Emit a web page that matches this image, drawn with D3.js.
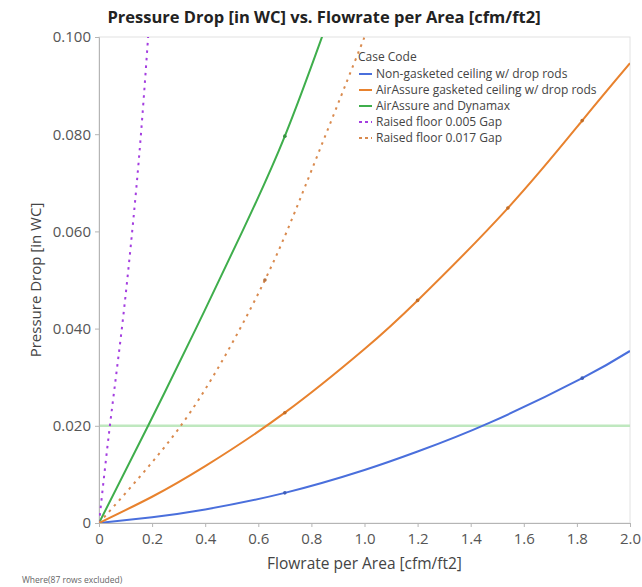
<!DOCTYPE html>
<html>
<head>
<meta charset="utf-8">
<script src="https://cdn.jsdelivr.net/npm/d3@7"></script>
<style>
  body { margin: 0; background: #fff; }
  text { font-family: "Open Sans", "Noto Sans", sans-serif; }
</style>
</head>
<body>
<div id="chart"></div>
<script>
// values
var seriesNames = ["Non-gasketed ceiling w/ drop rods", "AirAssure gasketed ceiling w/ drop rods",
                   "AirAssure and Dynamax", "Raised floor 0.005 Gap", "Raised floor 0.017 Gap"];
var seriesColors = ["#4a6fdc", "#e8822e", "#3fae4c", "#a43ee0", "#d98a4e"];
var seriesDashed = [false, false, false, true, true];

var nonGasketX = [0, 0.2, 0.4, 0.7, 1.0, 1.2, 1.47, 1.82, 2.0];
var nonGasketY = [0, 0.0012, 0.0028, 0.0062, 0.0109, 0.0147, 0.0206, 0.0298, 0.0354];
var gasketX = [0, 0.2, 0.4, 0.7, 1.0, 1.2, 1.54, 1.82, 2.0];
var gasketY = [0, 0.0054, 0.0117, 0.0227, 0.0358, 0.0458, 0.0648, 0.0828, 0.0946];
var dynamaxX = [0, 0.185, 0.365, 0.54, 0.7, 0.84, 0.88];
var dynamaxY = [0, 0.020, 0.040, 0.060, 0.0796, 0.100, 0.106];
var gap005X = [0, 0.041, 0.086, 0.125, 0.158, 0.185, 0.19];
var gap005Y = [0, 0.020, 0.040, 0.060, 0.080, 0.100, 0.104];
var gap017X = [0, 0.2, 0.4, 0.625, 0.8, 1.0, 1.02];
var gap017Y = [0, 0.0125, 0.0275, 0.050, 0.0725, 0.100, 0.103];

// data points that carry a marker on each line
var markerX = [[0.7, 1.82], [0.7, 1.2, 1.54, 1.82], [0.7], [], [0.625]];

var refLine = 0.020;
var xTicks = [0, 0.2, 0.4, 0.6, 0.8, 1.0, 1.2, 1.4, 1.6, 1.8, 2.0];
var yTicks = [0, 0.020, 0.040, 0.060, 0.080, 0.100];

var allX = [nonGasketX, gasketX, dynamaxX, gap005X, gap017X];
var allY = [nonGasketY, gasketY, dynamaxY, gap005Y, gap017Y];

var W = 642, H = 587;
var m = {left: 99, right: 12, top: 37, bottom: 64};
var iw = W - m.left - m.right, ih = H - m.top - m.bottom;

var svg = d3.select("#chart").append("svg").attr("width", W).attr("height", H);

var x = d3.scaleLinear().domain([0, 2]).range([0, iw]);
var y = d3.scaleLinear().domain([0, 0.1]).range([ih, 0]);

var g = svg.append("g").attr("transform", "translate(" + m.left + "," + m.top + ")");

svg.append("defs").append("clipPath").attr("id", "clip")
  .append("rect").attr("width", iw).attr("height", ih);

// frame
g.append("rect").attr("width", iw).attr("height", ih)
  .attr("fill", "none").attr("stroke", "#e2e2e2");

// reference line
g.append("line").attr("x1", 0).attr("x2", iw)
  .attr("y1", y(refLine)).attr("y2", y(refLine))
  .attr("stroke", "#bfe8bf").attr("stroke-width", 2.5);

// axes
var xAxis = g.append("g").attr("transform", "translate(0," + ih + ")")
  .call(d3.axisBottom(x).tickValues(xTicks).tickSize(4).tickPadding(6)
    .tickFormat(function(d) { return d === 0 ? "0" : d3.format(".1f")(d); }));
var yAxis = g.append("g")
  .call(d3.axisLeft(y).tickValues(yTicks).tickSize(4).tickPadding(4)
    .tickFormat(function(d) { return d === 0 ? "0" : d3.format(".3f")(d); }));
[xAxis, yAxis].forEach(function(a) {
  a.select(".domain").attr("stroke", "#b5b5b5");
  a.selectAll(".tick line").attr("stroke", "#b5b5b5");
  a.selectAll("text").attr("fill", "#555").style("font-size", "15px");
});

// lines
var lines = g.append("g").attr("clip-path", "url(#clip)");
var lineGen = d3.line()
  .x(function(d) { return x(d[0]); })
  .y(function(d) { return y(d[1]); })
  .curve(d3.curveNatural);

seriesNames.forEach(function(name, i) {
  var pts = d3.zip(allX[i], allY[i]);
  lines.append("path").datum(pts)
    .attr("d", lineGen)
    .attr("fill", "none")
    .attr("stroke", seriesColors[i])
    .attr("stroke-width", 2)
    .attr("stroke-dasharray", seriesDashed[i] ? "2.5,5" : null);
  markerX[i].forEach(function(mx) {
    var k = allX[i].indexOf(mx);
    lines.append("circle")
      .attr("cx", x(mx)).attr("cy", y(allY[i][k])).attr("r", 1.8)
      .attr("fill", d3.color(seriesColors[i]).darker(0.5));
  });
});

// title
svg.append("text").attr("x", 324).attr("y", 23).attr("text-anchor", "middle")
  .style("font-size", "16.5px").style("font-weight", "bold").attr("fill", "#222")
  .text("Pressure Drop [in WC] vs. Flowrate per Area [cfm/ft2]");

// axis titles
svg.append("text").attr("x", m.left + iw / 2).attr("y", 569).attr("text-anchor", "middle")
  .style("font-size", "15.5px").attr("fill", "#444")
  .text("Flowrate per Area [cfm/ft2]");
svg.append("text").attr("transform", "translate(41," + (m.top + ih / 2) + ") rotate(-90)")
  .attr("text-anchor", "middle").style("font-size", "15px").attr("fill", "#444")
  .text("Pressure Drop [in WC]");

// footnote
svg.append("text").attr("x", 22).attr("y", 583)
  .style("font-size", "8.5px").attr("fill", "#666")
  .text("Where(87 rows excluded)");

// legend
var lg = svg.append("g").attr("transform", "translate(358,61)");
lg.append("text").attr("x", 0).attr("y", 0).style("font-size", "12px").attr("fill", "#444")
  .text("Case Code");
seriesNames.forEach(function(name, i) {
  var ly = 17 + i * 16;
  lg.append("line").attr("x1", 1).attr("x2", 14).attr("y1", ly - 4).attr("y2", ly - 4)
    .attr("stroke", seriesColors[i]).attr("stroke-width", 2)
    .attr("stroke-dasharray", seriesDashed[i] ? "3,3" : null);
  lg.append("text").attr("x", 18).attr("y", ly)
    .style("font-size", "12px").attr("fill", "#444").text(name);
});
</script>
</body>
</html>
